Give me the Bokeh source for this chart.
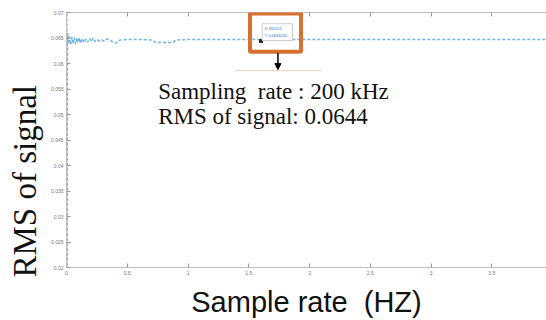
import math
from bokeh.plotting import figure
from bokeh.models import (Range1d, LinearAxis, Label, Arrow, NormalHead, BoxAnnotation,
                          FixedTicker, Title, CustomJSTickFormatter)
from bokeh.embed import file_html
from bokeh.resources import INLINE

# --- data (sample rate in 1e5 Hz, RMS of signal) ---
rate = [0.000, 0.002, 0.004, 0.008, 0.015, 0.025, 0.035, 0.045, 0.055, 0.065,
        0.075, 0.085, 0.095, 0.105, 0.115, 0.130, 0.145, 0.160, 0.175, 0.190,
        0.205, 0.220, 0.235, 0.250, 0.270, 0.290, 0.310, 0.330, 0.360, 0.380,
        0.400, 0.420, 0.440, 0.500, 0.600, 0.700, 0.730, 0.760, 0.850, 0.880,
        0.900, 1.000, 2.000, 3.000, 3.950]
rms = [0.0700, 0.0900, 0.0000, 0.0660, 0.0638, 0.0653, 0.0637, 0.0652, 0.0639, 0.0651,
       0.0638, 0.0650, 0.0641, 0.0651, 0.0640, 0.0649, 0.0641, 0.0648, 0.0642, 0.0649,
       0.0643, 0.0650, 0.0643, 0.0647, 0.0644, 0.0646, 0.0644, 0.0648, 0.0646, 0.0642,
       0.0640, 0.0642, 0.0646, 0.0647, 0.0647, 0.0646, 0.0642, 0.0641, 0.0641, 0.0642,
       0.0646, 0.0647, 0.0647, 0.0647, 0.0647]

x_ticks = [0, 0.5, 1, 1.5, 2, 2.5, 3, 3.5]
y_ticks = [0.02, 0.025, 0.03, 0.035, 0.04, 0.045, 0.05, 0.055, 0.06, 0.065, 0.07]
tip_x, tip_y = 1.60101, 0.0644245
NB = "\u00a0"

p = figure(width=546, height=320, output_backend="svg", toolbar_location=None,
           x_range=Range1d(0, 3.95), y_range=Range1d(0.02, 0.07),
           min_border_left=65, min_border_top=12, min_border_bottom=52, min_border_right=0,
           x_axis_location=None, y_axis_location=None)
p.outline_line_color = None
p.xgrid.visible = False
p.ygrid.visible = False
p.background_fill_color = "white"
p.border_fill_color = "white"

axis_col = "#bdbdbd"
lab_col = "#777777"

xb = LinearAxis(ticker=FixedTicker(ticks=x_ticks))
xb.major_label_overrides = {0: "0", 0.5: "0.5", 1: "1", 1.5: "1.5", 2: "2", 2.5: "2.5", 3: "3", 3.5: "3.5"}
xb.axis_label = "Sample rate" + NB + NB + "(HZ)"
xb.axis_label_text_font = "Liberation Sans"
xb.axis_label_text_font_size = "29px"
xb.axis_label_text_font_style = "normal"
xb.axis_label_text_color = "#111111"
xb.axis_label_standoff = 8
xb.major_label_text_font_size = "5px"
xb.major_label_text_color = lab_col
xb.major_label_standoff = 3
p.add_layout(xb, "below")

yl = LinearAxis(ticker=FixedTicker(ticks=y_ticks))
yl.major_label_text_font_size = "5px"
yl.major_label_text_color = lab_col
yl.major_label_standoff = 3
p.add_layout(yl, "left")

# top box edge with inward ticks, no labels
xt = LinearAxis(ticker=FixedTicker(ticks=x_ticks),
                formatter=CustomJSTickFormatter(code="return ''"))
xt.major_label_standoff = 0
xt.major_label_text_font_size = "5px"
p.add_layout(xt, "above")

for ax in [xb, yl, xt]:
    ax.axis_line_color = axis_col
    ax.major_tick_line_color = "#999999"
    ax.major_tick_in = 4
    ax.major_tick_out = 0
    ax.minor_tick_line_color = None

# y axis title
p.add_layout(Title(text="RMS of signal", align="left", offset=-10,
                   text_font="Liberation Serif", text_font_size="33px",
                   text_font_style="normal", text_color="#111111", standoff=9), "left")

p.line(rate, rms, line_color="#6fb4e6", line_width=1.5, line_dash="3 2")

# data tip box
p.add_layout(BoxAnnotation(left=1.61, right=1.86, top=0.0678, bottom=0.0645,
                           fill_color="white", fill_alpha=1.0, line_color="#cccccc",
                           line_alpha=1.0, line_width=1))
p.add_layout(Label(x=1.63, y=0.0668, text="X 160101", text_font_size="4px",
                   text_color="#2a6fc0", text_baseline="middle"))
p.add_layout(Label(x=1.63, y=0.0655, text="Y 0.0644245", text_font_size="4px",
                   text_color="#2a6fc0", text_baseline="middle"))
p.scatter([tip_x], [tip_y], size=3, marker="square", color="#222222")

# orange highlight box
p.add_layout(BoxAnnotation(left=1.51, right=1.93, top=0.0698, bottom=0.0623,
                           fill_alpha=0, line_color="#d9702f", line_alpha=1.0, line_width=4))
# arrow and underline
p.add_layout(Arrow(end=NormalHead(size=6, fill_color="black", line_color="black"),
                   x_start=1.74, y_start=0.0621, x_end=1.74, y_end=0.0588,
                   line_color="black", line_width=1.5))
p.segment(x0=[1.38], y0=[0.0586], x1=[2.10], y1=[0.0586], line_color="#f0d9c8", line_width=1.2)

p.add_layout(Label(x=0.754, y=0.0545, text="Sampling" + NB + NB + "rate" + NB + ": 200 kHz",
                   text_font="Liberation Serif", text_font_size="23px", text_color="#111111",
                   text_baseline="alphabetic"))
p.add_layout(Label(x=0.754, y=0.0496, text="RMS of signal: 0.0644",
                   text_font="Liberation Serif", text_font_size="23px", text_color="#111111",
                   text_baseline="alphabetic"))

open("out.html", "w").write(file_html(p, INLINE))
